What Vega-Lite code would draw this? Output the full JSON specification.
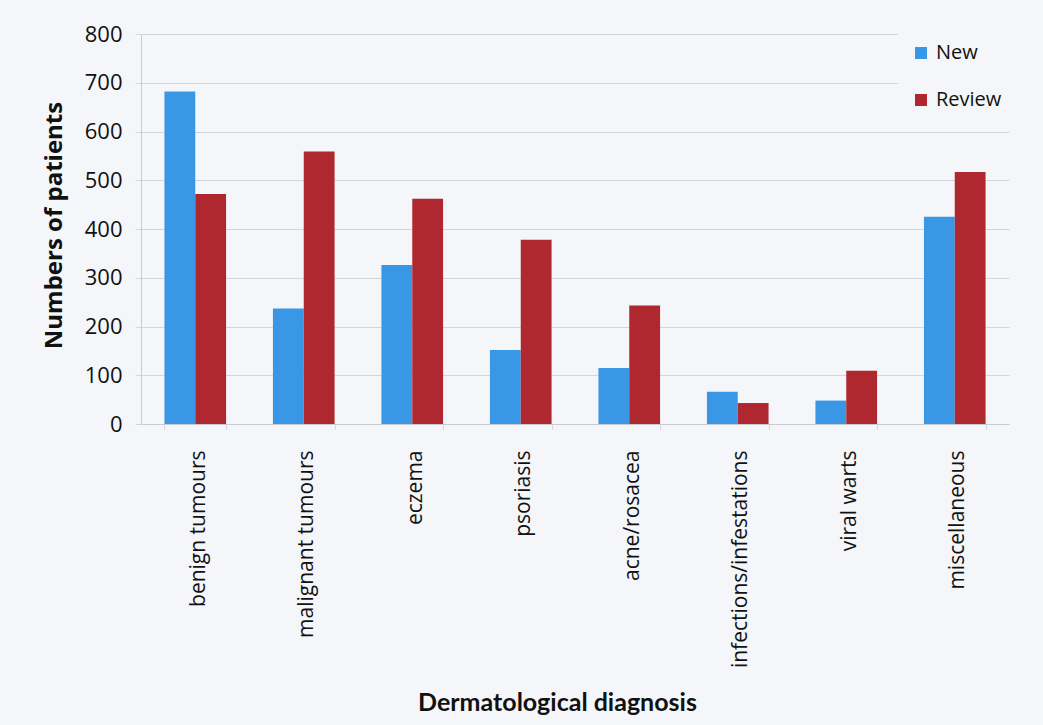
{
  "$schema": "https://vega.github.io/schema/vega-lite/v6.json",
  "autosize": "none",
  "width": 868,
  "height": 390,
  "padding": {"left": 141, "top": 34, "right": 34, "bottom": 301},
  "background": "#f4f6f9",
  "config": {
    "view": {"stroke": null},
    "font": "Open Sans"
  },
  "data": {
    "values": [
      {"diagnosis": "benign tumours", "type": "New", "patients": 682},
      {"diagnosis": "benign tumours", "type": "Review", "patients": 472},
      {"diagnosis": "malignant tumours", "type": "New", "patients": 237},
      {"diagnosis": "malignant tumours", "type": "Review", "patients": 559},
      {"diagnosis": "eczema", "type": "New", "patients": 326},
      {"diagnosis": "eczema", "type": "Review", "patients": 462},
      {"diagnosis": "psoriasis", "type": "New", "patients": 152},
      {"diagnosis": "psoriasis", "type": "Review", "patients": 378},
      {"diagnosis": "acne/rosacea", "type": "New", "patients": 115},
      {"diagnosis": "acne/rosacea", "type": "Review", "patients": 243},
      {"diagnosis": "infections/infestations", "type": "New", "patients": 66},
      {"diagnosis": "infections/infestations", "type": "Review", "patients": 43},
      {"diagnosis": "viral warts", "type": "New", "patients": 48},
      {"diagnosis": "viral warts", "type": "Review", "patients": 109},
      {"diagnosis": "miscellaneous", "type": "New", "patients": 425},
      {"diagnosis": "miscellaneous", "type": "Review", "patients": 517}
    ]
  },
  "mark": {"type": "bar"},
  "encoding": {
    "x": {
      "field": "diagnosis",
      "type": "nominal",
      "sort": null,
      "scale": {"paddingInner": 0.432, "paddingOuter": 0.216},
      "axis": {
        "title": "Dermatological diagnosis",
        "titleFont": "Lato",
        "titleFontWeight": "bold",
        "titleFontSize": 25,
        "titleColor": "#111111",
        "titleX": 416,
        "titleY": 278,
        "titleAlign": "center",
        "titleBaseline": "middle",
        "labelAngle": -90,
        "labelAlign": "right",
        "labelBaseline": "middle",
        "labelPadding": 21,
        "labelOffset": 3,
        "labelFontSize": 21,
        "labelLimit": 400,
        "labelColor": "#111111",
        "ticks": true,
        "tickBand": "extent",
        "tickSize": 5,
        "tickColor": "#d2d6dc",
        "domainColor": "#c8ccd2"
      }
    },
    "xOffset": {"field": "type", "type": "nominal"},
    "y": {
      "field": "patients",
      "type": "quantitative",
      "scale": {"domain": [0, 800]},
      "axis": {
        "title": "Numbers of patients",
        "titleFontWeight": "bold",
        "titleFontSize": 24,
        "titleColor": "#111111",
        "titleX": -87,
        "titleY": 191,
        "titleAlign": "center",
        "titleBaseline": "middle",
        "titleAngle": -90,
        "values": [0, 100, 200, 300, 400, 500, 600, 700, 800],
        "labelFontSize": 22,
        "labelColor": "#111111",
        "labelPadding": 13,
        "tickSize": 6,
        "tickColor": "#d2d6dc",
        "gridColor": "#d2d6dc",
        "domainColor": "#c8ccd2"
      }
    },
    "color": {
      "field": "type",
      "type": "nominal",
      "scale": {"domain": ["New", "Review"], "range": ["#3a97e6", "#b0282f"]},
      "legend": {
        "title": null,
        "orient": "none",
        "legendX": 757,
        "legendY": -4,
        "padding": 13,
        "fillColor": "#f4f6f9",
        "symbolType": "square",
        "symbolSize": 144,
        "symbolStrokeWidth": 0,
        "labelFontSize": 20,
        "labelColor": "#111111",
        "labelOffset": 5,
        "rowPadding": 27
      }
    }
  }
}
